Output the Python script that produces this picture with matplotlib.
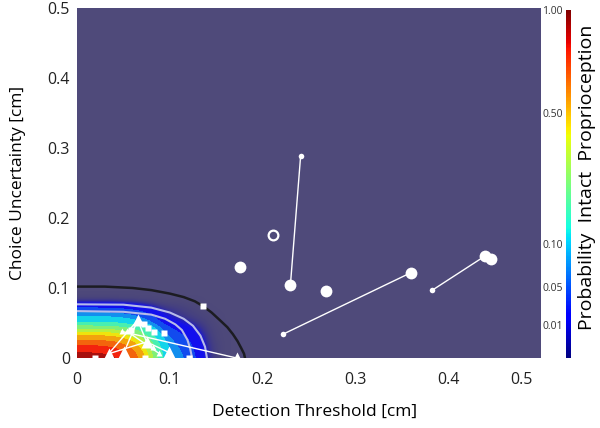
import numpy as np
import matplotlib
matplotlib.use("Agg")
import matplotlib.pyplot as plt
import matplotlib.colors as mcolors
import matplotlib.transforms as mtransforms

plt.rcParams["font.family"] = ["Open Sans", "DejaVu Sans"]

# probability of intact proprioception, read off the coloured patch
# rows: choice uncertainty 0..0.09 cm, cols: detection threshold 0..0.16 cm (step 0.01)
grid_step = 0.01
prob = [
    [0.95, 0.95, 0.95, 0.93, 0.90, 0.82, 0.72, 0.55, 0.36, 0.18, 0.10, 0.07, 0.05, 0.025, 0.008, 0.003, 0.001],
    [0.85, 0.85, 0.85, 0.832, 0.805, 0.734, 0.644, 0.492, 0.322, 0.161, 0.090, 0.063, 0.045, 0.022, 0.007, 0.003, 0.001],
    [0.72, 0.72, 0.72, 0.705, 0.682, 0.621, 0.546, 0.417, 0.273, 0.136, 0.076, 0.053, 0.038, 0.019, 0.006, 0.003, 0.001],
    [0.53, 0.53, 0.53, 0.519, 0.502, 0.458, 0.402, 0.307, 0.201, 0.100, 0.056, 0.039, 0.028, 0.014, 0.005, 0.002, 0.001],
    [0.36, 0.36, 0.36, 0.352, 0.341, 0.311, 0.273, 0.208, 0.136, 0.068, 0.038, 0.027, 0.019, 0.009, 0.004, 0.002, 0.001],
    [0.16, 0.16, 0.16, 0.156, 0.152, 0.138, 0.121, 0.093, 0.061, 0.030, 0.017, 0.012, 0.008, 0.005, 0.003, 0.001, 0],
    [0.085, 0.085, 0.085, 0.083, 0.081, 0.073, 0.064, 0.049, 0.032, 0.016, 0.009, 0.006, 0.004, 0.003, 0.002, 0.001, 0],
    [0.035, 0.035, 0.035, 0.034, 0.033, 0.030, 0.026, 0.020, 0.013, 0.007, 0.005, 0.004, 0.003, 0.002, 0.001, 0, 0],
    [0.005, 0.005, 0.005, 0.005, 0.005, 0.004, 0.004, 0.003, 0.003, 0.002, 0.002, 0.002, 0.001, 0.001, 0, 0, 0],
    [0.001, 0.001, 0.001, 0.001, 0.001, 0.001, 0.001, 0.001, 0.001, 0.001, 0, 0, 0, 0, 0, 0, 0],
]

# black boundary curve
boundary_x = [0, 0.03, 0.06, 0.08, 0.10, 0.115, 0.127, 0.136, 0.145, 0.154, 0.162, 0.168, 0.173, 0.177, 0.180, 0.181]
boundary_y = [0.102, 0.102, 0.100, 0.097, 0.092, 0.087, 0.081, 0.074, 0.065, 0.054, 0.044, 0.034, 0.024, 0.014, 0.006, 0]

# light contour lines (p = 0.01 outer, p = 0.05 inner)
outer_x = [0, 0.05, 0.08, 0.10, 0.115, 0.125, 0.133, 0.138, 0.140]
outer_y = [0.0767, 0.0762, 0.072, 0.065, 0.056, 0.046, 0.032, 0.016, 0]
inner_x = [0, 0.05, 0.08, 0.095, 0.106, 0.113, 0.119, 0.122, 0.124]
inner_y = [0.067, 0.066, 0.062, 0.056, 0.048, 0.040, 0.026, 0.013, 0]

# colorbar scale (probability -> position along bar)
cbar_prob = [0, 0.01, 0.05, 0.10, 0.50, 1.0]
cbar_pos = [0, 0.095, 0.204, 0.328, 0.704, 1.0]
cbar_ticks = [0.01, 0.05, 0.10, 0.50, 1.00]
cbar_labels = ["0.01", "0.05", "0.10", "0.50", "1.00"]

# subjects: filled circles, small dots, open circle
circle_x = [0.176, 0.230, 0.268, 0.360, 0.440, 0.446]
circle_y = [0.130, 0.105, 0.096, 0.122, 0.146, 0.142]
dot_x = [0.241, 0.222, 0.383]
dot_y = [0.289, 0.034, 0.097]
open_x = [0.211]
open_y = [0.176]
circle_links = [((0.241, 0.289), (0.230, 0.105)),
                ((0.222, 0.034), (0.360, 0.122)),
                ((0.383, 0.097), (0.440, 0.146))]

# controls: squares and triangles
square_x = [0.136, 0.121, 0.073, 0.019, 0.072, 0.077, 0.083, 0.094, 0.058]
square_y = [0.074, 0.0, 0.0, 0.0, 0.048, 0.043, 0.037, 0.036, 0.040]
tri_x = [0.0654, 0.051, 0.075, 0.099, 0.172, 0.034]
tri_y = [0.054, 0.009, 0.023, 0.008, 0.0, 0.006]
tri_small_x = [0.048, 0.054, 0.088, 0.082]
tri_small_y = [0.038, 0.038, 0.007, 0.016]
tri_links = [((0.0654, 0.054), (0.034, 0.006)),
             ((0.0654, 0.054), (0.051, 0.009)),
             ((0.0654, 0.054), (0.075, 0.023)),
             ((0.048, 0.038), (0.172, 0.0)),
             ((0.054, 0.038), (0.088, 0.007)),
             ((0.075, 0.023), (0.099, 0.008)),
             ((0.034, 0.006), (0.075, 0.023))]

purple = "#4f4a7a"


def fwd(v):
    return np.interp(v, cbar_prob, cbar_pos)


def inv(p):
    return np.interp(p, cbar_pos, cbar_prob)


norm = mcolors.FuncNorm((fwd, inv), vmin=0, vmax=1)

# field colormap: banded jet, muted a little, fading into the purple background
pos = np.linspace(0, 1, 512)
band = np.where(pos > 0.1, np.floor(pos * 13) / 13 + 0.5 / 13, pos)
cols = plt.get_cmap("jet")(np.clip(band, 0, 1))
cols[:, :3] = cols[:, :3] * 0.88 + np.array([0.62, 0.5, 0.45]) * 0.12
fade = np.clip(pos / 0.11, 0, 1)[:, None] ** 1.6
cols = cols * fade + np.array(mcolors.to_rgba(purple)) * (1 - fade)
field_cmap = mcolors.ListedColormap(cols)

fig = plt.figure(figsize=(6, 4.28), dpi=100)
ax = fig.add_axes([77 / 600, 70 / 428, 464 / 600, 350 / 428])
ax.set_facecolor(purple)

nrow, ncol = len(prob), len(prob[0])
ax.imshow(prob, origin="lower", cmap=field_cmap, norm=norm, interpolation="bicubic",
          extent=(-grid_step / 2, (ncol - 0.5) * grid_step, -grid_step / 2, (nrow - 0.5) * grid_step),
          aspect="auto")
ax.plot(outer_x, outer_y, color="#b7bbe8", lw=1.5)
ax.plot(inner_x, inner_y, color="#b7bbe8", lw=1.5)
ax.plot(boundary_x, boundary_y, color="#1c1c22", lw=1.8)

for a, b in circle_links + tri_links:
    ax.plot([a[0], b[0]], [a[1], b[1]], color="white", lw=1.0)

ax.plot(circle_x, circle_y, "o", color="white", ms=8.5, mec="none")
ax.plot(dot_x, dot_y, "o", color="white", ms=4, mec="none")
ax.plot(open_x, open_y, "o", mfc="none", mec="white", ms=7, mew=1.6)
ax.plot(square_x, square_y, "s", color="white", ms=5, mec="none")
ax.plot(tri_x, tri_y, "^", color="white", ms=8, mec="none")
ax.plot(tri_small_x, tri_small_y, "^", color="white", ms=5, mec="none")

ax.set_xlim(0, 0.5)
ax.set_ylim(0, 0.5)
ticks = [0, 0.1, 0.2, 0.3, 0.4, 0.5]
labels = ["0", "0.1", "0.2", "0.3", "0.4", "0.5"]
ax.set_xticks(ticks, labels)
ax.set_yticks(ticks, labels)
ax.tick_params(length=0, labelsize=11.5, colors="#222222")
ax.tick_params(axis="x", pad=10)
ax.tick_params(axis="y", pad=5)
last = ax.get_xticklabels()[-1]
last.set_transform(last.get_transform() + mtransforms.ScaledTranslation(-0.2, 0, fig.dpi_scale_trans))
for s in ax.spines.values():
    s.set_visible(False)

ax.set_xlabel("Detection Threshold [cm]", fontsize=12.5)
ax.set_ylabel("Choice Uncertainty [cm]", fontsize=12.5)
ax.xaxis.set_label_coords(0.513, -0.13)
ax.yaxis.set_label_coords(-0.11, 0.5)

cax = fig.add_axes([565.5 / 600, 70 / 428, 5 / 600, 348 / 428])
sm = plt.cm.ScalarMappable(norm=norm, cmap="jet")
cb = fig.colorbar(sm, cax=cax)
cb.outline.set_visible(False)
cb.set_ticks(cbar_ticks, labels=cbar_labels)
cax.yaxis.set_ticks_position("left")
cax.tick_params(length=0, labelsize=7.5, pad=2, colors="#333333")
cax.yaxis.set_label_position("right")
cax.set_ylabel("Probability  Intact  Proprioception", fontsize=14)
cax.yaxis.set_label_coords(2.6, 0.52)

fig.savefig("out.png", dpi=100)
